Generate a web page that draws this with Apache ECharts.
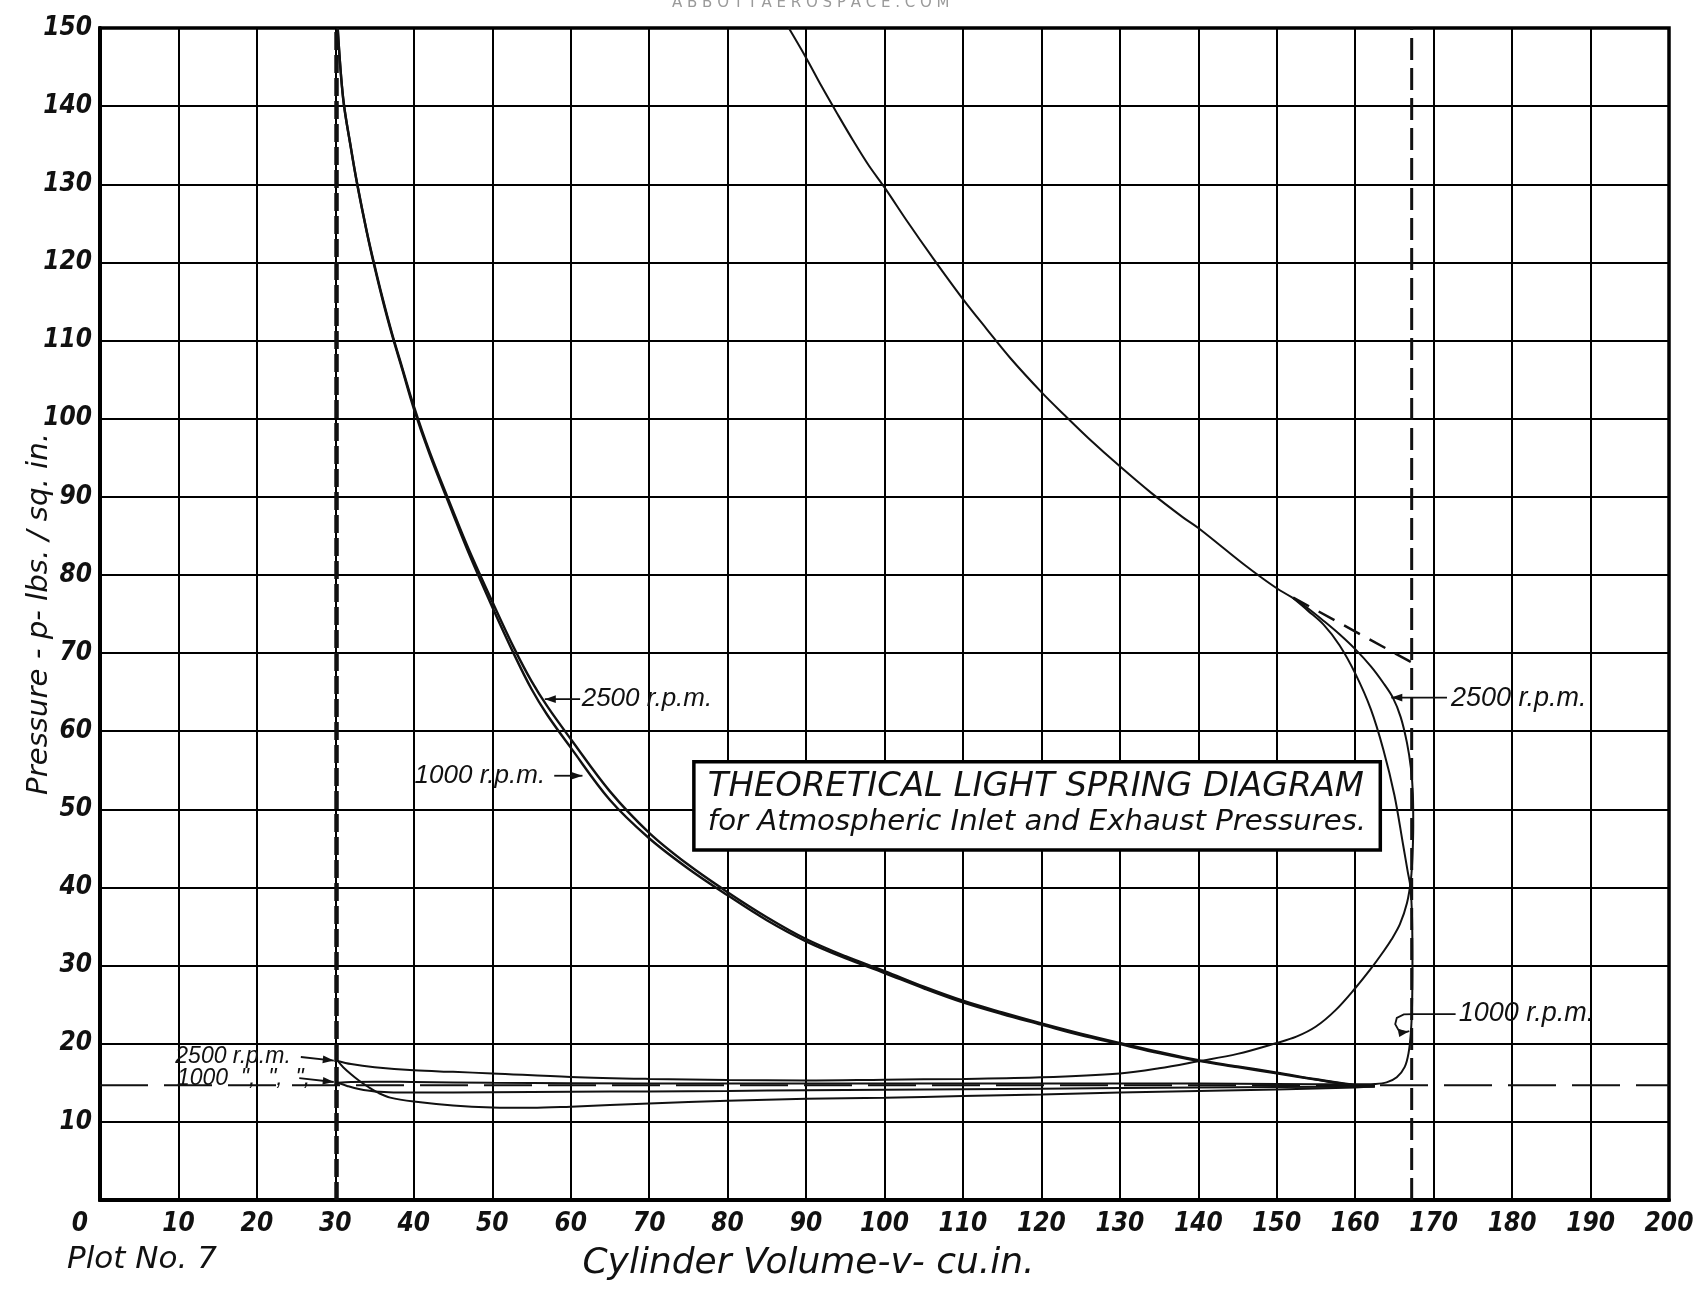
<!DOCTYPE html>
<html><head><meta charset="utf-8">
<script src="https://cdn.jsdelivr.net/npm/echarts@6/dist/echarts.min.js"></script>
<style>html,body{margin:0;padding:0;background:#fff}#c{width:1699px;height:1289px}</style>
</head><body><div id="c"></div>
<script>
// ---------- tick labels ----------
const xTickLabels = [0,10,20,30,40,50,60,70,80,90,100,110,120,130,140,150,160,170,180,190,200];
const yTickLabels = [0,10,20,30,40,50,60,70,80,90,100,110,120,130,140,150];

// ---------- curves: [volume cu.in., pressure lbs/sq.in.] ----------
const compression2500 = [[162.5,14.55],[160,14.7],[155,15.45],[150,16.3],[145,17.1],[140,17.9],[135,18.95],[130,20.1],[125,21.3],[120,22.6],[115,24.0],[110,25.5],[105,27.3],[100,29.3],[95,31.2],[90,33.4],[85,36.2],[80,39.4],[75,42.9],[70,47.0],[65,52.3],[60,59.0],[57,63.2],[55,66.4],[52.8,70.6],[50,76.6],[47,83.3],[45,88.2],[42,95.8],[40,101.6],[38.5,106.6],[37.2,111],[36,115.5],[35,119.6],[34,124],[32.8,130],[32,134.6],[31,141],[30.3,150]];
const compression1000 = [[162.5,14.55],[160,14.65],[155,15.4],[150,16.2],[145,17.0],[140,17.8],[135,18.8],[130,19.95],[125,21.1],[120,22.45],[115,23.8],[110,25.3],[105,27.1],[100,29.05],[95,30.95],[90,33.1],[85,35.8],[80,39.0],[75,42.4],[70,46.3],[65,51.2],[60,57.9],[57,62.1],[55,65.4],[52.8,69.8],[50,75.9],[47,82.8],[45,87.8],[42,95.5],[40,101.3],[38.5,106.4],[37.2,110.8],[36,115.3],[35,119.4],[34,123.9],[32.8,129.9],[32,134.5],[31,140.9],[30.3,150]];
const expansion = [[87.8,150],[90,146.2],[92,142.5],[94,139.0],[96,135.6],[98,132.4],[100,129.6],[103,125.1],[106,120.8],[110,115.3],[113,111.5],[116,107.8],[120,103.4],[123,100.4],[126,97.5],[130,93.9],[134,90.5],[138,87.4],[140,86.0],[143,83.6],[146,81.2],[148,79.7],[150,78.3],[152,77.1]];
const expansion2500 = [[152,77.1],[154,75.7],[156,74.1],[158,72.4],[160,70.5],[162,68.3],[163.5,66.3],[164.8,64.3],[165.8,61.8],[166.6,58.5],[167.1,55.3],[167.35,52],[167.4,48],[167.3,44],[167.1,41]];
const exhaust2500 = [[167.1,41],[166.6,38],[165.7,35.3],[164.6,33.3],[163.6,31.8],[162,29.6],[160,27.1],[157.5,24.3],[155,22.2],[152.5,20.9],[150,20.1],[145,18.7],[140,17.75],[135,16.85],[130,16.2],[120,15.7],[110,15.5],[100,15.4],[90,15.3],[80,15.35],[70,15.5],[60,15.75],[50,16.2],[45,16.4],[40,16.6],[35,17.0],[32,17.4],[30.3,17.8]];
const intake2500 = [[30.3,17.8],[31,17.0],[32,16.1],[33,15.3],[34.3,14.4],[35.5,13.7],[37,13.1],[40,12.6],[45,12.1],[50,11.85],[55,11.8],[60,11.95],[70,12.35],[80,12.7],[90,12.95],[100,13.1],[110,13.3],[120,13.5],[130,13.75],[140,13.95],[150,14.15],[160,14.4],[162.5,14.55]];
const expansion1000 = [[152,77.1],[154,75.4],[156,73.6],[158,71.0],[160,67.4],[162,62.8],[163.6,57.6],[165,51.8],[166.1,45.5],[166.7,42],[167.05,40],[167.25,36],[167.3,30],[167.25,25],[167.1,21.5],[166.8,18.8],[166.3,17.0],[165.3,15.7],[164,15.05],[162.5,14.85]];
const exhaust1000 = [[162.5,14.85],[160,14.8],[150,14.85],[140,14.9],[120,14.9],[100,14.9],[80,14.9],[60,14.95],[50,15.0],[40,15.1],[35,15.15],[32,15.1],[30.3,15.0]];
const intake1000 = [[30.3,15.0],[31.5,14.6],[33,14.2],[35,13.9],[40,13.75],[50,13.8],[60,13.85],[70,13.9],[80,13.95],[90,14.05],[100,14.1],[120,14.25],[140,14.4],[160,14.5],[162.5,14.55]];

// reference (dashed) lines
const atmosphericLine = [[0,14.7],[200,14.7]];
const clearanceLine = [[30.15,0],[30.15,150]];
const strokeEndLine = [[167.2,0],[167.2,150]];
const theoreticalExpansion = [[152.1,77.1],[167.2,68.8]];

// ---------- annotations (anchored in data space) ----------
const labelTexts = ['2500 r.p.m.','1000 r.p.m.','2500 r.p.m.','1000 r.p.m.','2500 r.p.m.','1000  ",  ",  ",'];
const labelAnchors = [[61.4,64.1],[40.1,54.3],[172.2,64.2],[173.2,23.9],[9.6,18.3],[9.8,15.6]];
const labelSizes = [26,26,27,27,23,23];
const leaders = [
  [[61.2,64.1],[56.7,64.1]],
  [[57.9,54.3],[61.5,54.3]],
  [[171.7,64.3],[164.6,64.3]],
  [[172.8,23.8],[167.4,23.8],[166.2,23.75],[165.3,23.3],[165.1,22.5],[165.5,21.8],[166.4,21.5],[166.9,21.6]],
  [[25.6,18.3],[29.8,17.85]],
  [[25.4,15.6],[29.8,15.1]]
];
const titleLines = ['THEORETICAL LIGHT SPRING DIAGRAM','for Atmospheric Inlet and Exhaust Pressures.'];
const titleBox = [75.7,56.1,163.2,44.8];

const INK = '#111';
const cv = document.createElement('canvas').getContext('2d');
function textWidth(text, style, weight, size, family){ cv.font = style+' '+weight+' '+size+'px '+family; return cv.measureText(text).width; }
function fit(text, style, weight, family, target){ return 100*target/textWidth(text, style, weight, 100, family); }
function available(name){
  const s='0123456789 mmmWWlli';
  return ['monospace','serif'].some(fb => textWidth(s,'normal','normal',40,"'"+name+"',"+fb) !== textWidth(s,'normal','normal',40,fb));
}
const narrowCandidates = ['Liberation Sans Narrow','DejaVu Sans Condensed','Roboto Condensed','Roboto'];
const tickFamily = "'" + (narrowCandidates.find(available) || 'DejaVu Sans') + "', sans-serif";
const textFamily = "'DejaVu Sans', sans-serif";

const chart = echarts.init(document.getElementById('c'), null, {renderer:'canvas'});

function lineSeries(name, data, width, dash){
  return {type:'line', name, data, showSymbol:false, symbol:'none', smooth: dash?false:0.35, animation:false,
    lineStyle:{color:INK, width, type: dash||'solid', cap:'butt'}, z: 3, silent:true};
}
function combine(a,b){ return a.concat(b.slice(1)); }

const tickFont = {fontFamily:tickFamily, fontStyle:'italic', fontWeight:'bold', fontSize:26, color:INK};
const xNameText = 'Cylinder Volume-v- cu.in.';
const yNameText = 'Pressure - p- lbs. / sq. in.';
const xNameSize = Math.min(36, fit(xNameText,'italic','normal',textFamily,470));
const yNameSize = Math.min(32, fit(yNameText,'italic','normal',textFamily,362));

const option = {
  backgroundColor:'#fff',
  animation:false,
  grid:{left:100, right:30, top:28, bottom:89, containLabel:false, outerBoundsMode:'none',
    show:true, borderColor:'#000', borderWidth:3.5, backgroundColor:'transparent'},
  xAxis:{type:'value', min:0, max:200, interval:10,
    name:xNameText, nameLocation:'middle', nameGap:46, nameMoveOverlap:false,
    nameTextStyle:{fontFamily:textFamily, fontStyle:'italic', fontSize:xNameSize, color:INK, padding:[0,152,0,0]},
    axisLine:{show:true, lineStyle:{color:'#000', width:4}}, axisTick:{show:false},
    axisLabel:Object.assign({margin:11, formatter:v=> v===0?'{z|0}':String(xTickLabels[v/10]),
      rich:{z:Object.assign({padding:[0,40,0,0]}, tickFont)}}, tickFont),
    splitLine:{show:true, lineStyle:{color:'#000', width:2}}},
  yAxis:{type:'value', min:0, max:150, interval:10,
    name:yNameText, nameLocation:'middle', nameGap:46, nameRotate:90, nameMoveOverlap:false,
    nameTextStyle:{fontFamily:textFamily, fontStyle:'italic', fontSize:yNameSize, color:INK},
    axisLine:{show:true, lineStyle:{color:'#000', width:4}}, axisTick:{show:false},
    axisLabel:Object.assign({margin:8, formatter:v=> v===0?'':String(yTickLabels[v/10])}, tickFont),
    splitLine:{show:true, lineStyle:{color:'#000', width:2}}},
  graphic:[
    {type:'text', left:67, top:1244, style:{text:'Plot No. 7', fontFamily:textFamily, fontStyle:'italic', fontSize:31, fill:INK}},
    {type:'text', left:672, top:-4, style:{text:'A B B O T T A E R O S P A C E . C O M', fontFamily:textFamily, fontSize:15, fill:'#9a9a9a'}}
  ],
  series:[
    lineSeries('clearance', clearanceLine, 4.5, [18,5]),
    lineSeries('stroke end', strokeEndLine, 3, [22,8]),
    lineSeries('atmospheric', atmosphericLine, 2, [48,16]),
    lineSeries('theoretical', theoreticalExpansion, 2.5, [18,11]),
    lineSeries('compression 2500', compression2500, 2.4),
    lineSeries('compression 1000', compression1000, 2.4),
    lineSeries('expansion', expansion, 2),
    lineSeries('2500 r.p.m.', combine(expansion2500, exhaust2500), 2),
    lineSeries('2500 intake', intake2500, 2),
    lineSeries('1000 r.p.m.', combine(expansion1000, exhaust1000), 2),
    lineSeries('1000 intake', intake1000, 2),
    { type:'custom', name:'title box', coordinateSystem:'cartesian2d', z:5, silent:true, animation:false,
      data:[titleBox], encode:{x:[0,2], y:[1,3]},
      renderItem:(params, api)=>{
        const p1 = api.coord([api.value(0), api.value(1)]);
        const p2 = api.coord([api.value(2), api.value(3)]);
        const w = p2[0]-p1[0], h = p2[1]-p1[1];
        const s1 = fit(titleLines[0], 'italic', 'normal', textFamily, w-30);
        const s2 = fit(titleLines[1], 'italic', 'normal', textFamily, w-28);
        return {type:'group', children:[
          {type:'rect', shape:{x:p1[0], y:p1[1], width:w, height:h}, style:{fill:'#fff', stroke:'#000', lineWidth:3.5}},
          {type:'text', x:p1[0]+14, y:p1[1]+h*0.29, style:{text:titleLines[0], fontFamily:textFamily, fontStyle:'italic', fontSize:s1, fill:INK, align:'left', verticalAlign:'middle'}},
          {type:'text', x:p1[0]+14, y:p1[1]+h*0.69, style:{text:titleLines[1], fontFamily:textFamily, fontStyle:'italic', fontSize:s2, fill:INK, align:'left', verticalAlign:'middle'}}
        ]};
      }},
    { type:'custom', name:'labels', coordinateSystem:'cartesian2d', z:6, silent:true, animation:false,
      data: labelAnchors.map((a,i)=>[a[0],a[1],i]), encode:{x:0,y:1},
      renderItem:(params, api)=>{
        const i = api.value(2);
        const p = api.coord([api.value(0), api.value(1)]);
        return {type:'text', x:p[0], y:p[1], style:{text:labelTexts[i], fontFamily:"'Liberation Sans', sans-serif", fontStyle:'italic', fontSize:labelSizes[i], fill:INK, align:'left', verticalAlign:'middle'}};
      }},
    { type:'custom', name:'leaders', coordinateSystem:'cartesian2d', z:6, silent:true, animation:false,
      data: leaders.map((l,i)=>[l[0][0], l[0][1], i]), encode:{x:0,y:1},
      renderItem:(params, api)=>{
        const pts = leaders[api.value(2)].map(q=>api.coord(q));
        const a = pts[pts.length-1], b = pts[pts.length-2];
        const dx=a[0]-b[0], dy=a[1]-b[1], L=Math.hypot(dx,dy)||1, ux=dx/L, uy=dy/L;
        const hl=11, hw=3.8;
        const base=[a[0]-ux*hl, a[1]-uy*hl];
        return {type:'group', children:[
          {type:'polyline', shape:{points:pts}, style:{stroke:INK, lineWidth:1.8, fill:null}},
          {type:'polygon', shape:{points:[a,[base[0]-uy*hw, base[1]+ux*hw],[base[0]+uy*hw, base[1]-ux*hw]]}, style:{fill:INK}}
        ]};
      }}
  ]
};
chart.setOption(option);
</script>
</body></html>
